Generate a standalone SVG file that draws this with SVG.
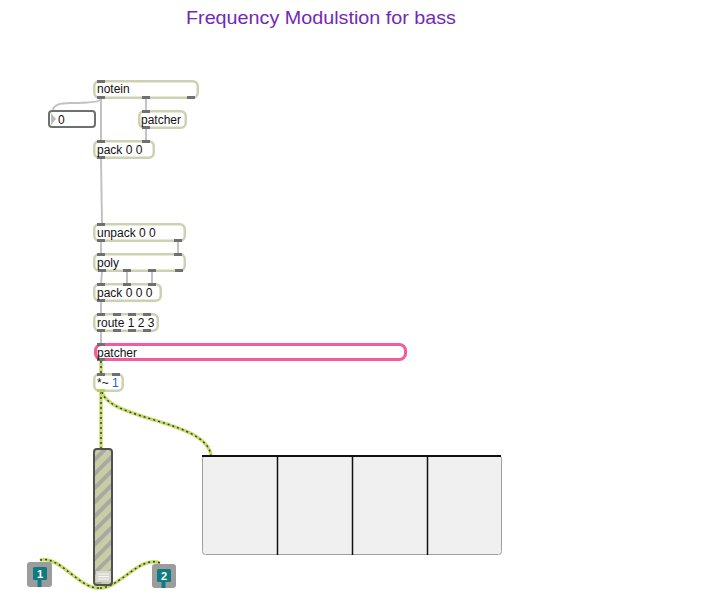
<svg xmlns="http://www.w3.org/2000/svg" width="707" height="598" viewBox="0 0 707 598">
<defs>
<style>
text{font-family:"Liberation Sans",Arial,sans-serif;font-size:12px;fill:#111}
.box{fill:#fff;stroke:#cdd1b1;stroke-width:2.5}
.tab{fill:#707070}
.stab{fill:#b5cf5e}
.cord{fill:none;stroke:#c2c2c2;stroke-width:2}
.sig{fill:none;stroke:#c4dd6a;stroke-width:3.5}
.sigd{fill:none;stroke:#3d3d2c;stroke-width:1.5;stroke-dasharray:2 3}
</style>
<pattern id="stripes" patternUnits="userSpaceOnUse" width="10" height="10" patternTransform="rotate(45)">
<rect width="10" height="10" fill="#c9cca4"/>
<rect width="4" height="10" fill="#a9a9a1"/>
</pattern>
</defs>
<rect width="707" height="598" fill="#fff"/>
<text x="186" y="24" textLength="270" lengthAdjust="spacingAndGlyphs" style="font-size:18.5px;fill:#7328b5">Frequency Modulstion for bass</text>

<g id="connectors">
<path class="cord" d="M101,99 L101,140"/>
<path class="cord" d="M146,99 L146,110"/>
<path class="cord" d="M146,129 L146,140"/>
<path class="cord" d="M101,99 Q100,103 70,103 Q54,103 53,110"/>
<path class="cord" d="M101,159 L102,223"/>
<path class="cord" d="M101,242 L101,253"/>
<path class="cord" d="M178,242 L178,253"/>
<path class="cord" d="M102,272 L101,283"/>
<path class="cord" d="M127,272 L127,283"/>
<path class="cord" d="M152,272 L152,283"/>
<path class="cord" d="M101,302 L101,313"/>
<path class="cord" d="M101,332 L101,343"/>
<path class="sig" d="M101,361 L101,373"/>
<path class="sigd" d="M101,361 L101,373"/>
<path class="sig" d="M101,392 L101,448"/>
<path class="sigd" d="M101,392 L101,448"/>
<path class="sig" d="M102,392 C110,420 205,420 211,455"/>
<path class="sigd" d="M102,392 C110,420 205,420 211,455"/>
<path class="sig" d="M40,560 C60,555 80,590 100,588"/>
<path class="sigd" d="M40,560 C60,555 80,590 100,588"/>
<path class="sig" d="M100,588 C120,588 140,555 160,563"/>
<path class="sigd" d="M100,588 C120,588 140,555 160,563"/>
</g>

<g id="notein">
<rect class="box" x="94.25" y="81.25" width="103.5" height="16.5" rx="5"/>
<rect class="tab" x="97" y="80" width="8" height="3"/>
<rect class="tab" x="97" y="96" width="8" height="3"/>
<rect class="tab" x="142" y="96" width="8" height="3"/>
<rect class="tab" x="187" y="96" width="8" height="3"/>
<text x="97" y="93">notein</text>
</g>

<g id="number">
<rect x="49" y="111" width="46" height="16" rx="3" fill="#fff" stroke="#6f6f6f" stroke-width="2"/>
<polygon points="51,113 56,119 51,125" fill="#bcbcbc"/>
<text x="58" y="123.5">0</text>
</g>

<g id="patcher1">
<rect class="box" x="139.25" y="111.25" width="46.5" height="16.5" rx="5"/>
<rect class="tab" x="142" y="110" width="8" height="3"/>
<rect class="tab" x="142" y="126" width="8" height="3"/>
<text x="141" y="124">patcher</text>
</g>

<g id="pack00">
<rect class="box" x="94.25" y="141.25" width="59.5" height="16.5" rx="5"/>
<rect class="tab" x="97" y="140" width="8" height="3"/>
<rect class="tab" x="142" y="140" width="8" height="3"/>
<rect class="tab" x="97" y="156" width="8" height="3"/>
<text x="97" y="154">pack 0 0</text>
</g>

<g id="unpack">
<rect class="box" x="94.25" y="224.25" width="90.5" height="16.5" rx="5"/>
<rect class="tab" x="97" y="223" width="8" height="3"/>
<rect class="tab" x="97" y="239" width="8" height="3"/>
<rect class="tab" x="174" y="239" width="8" height="3"/>
<text x="97" y="237">unpack 0 0</text>
</g>

<g id="poly">
<rect class="box" x="94.25" y="254.25" width="90.5" height="16.5" rx="5"/>
<rect class="tab" x="97" y="253" width="8" height="3"/>
<rect class="tab" x="174" y="253" width="8" height="3"/>
<rect class="tab" x="98" y="269" width="8" height="3"/>
<rect class="tab" x="123" y="269" width="8" height="3"/>
<rect class="tab" x="148" y="269" width="8" height="3"/>
<rect class="tab" x="175" y="269" width="8" height="3"/>
<text x="97" y="267">poly</text>
</g>

<g id="pack000">
<rect class="box" x="94.25" y="284.25" width="66.5" height="16.5" rx="5"/>
<rect class="tab" x="97" y="283" width="8" height="3"/>
<rect class="tab" x="123" y="283" width="8" height="3"/>
<rect class="tab" x="148" y="283" width="8" height="3"/>
<rect class="tab" x="97" y="299" width="8" height="3"/>
<text x="97" y="297">pack 0 0 0</text>
</g>

<g id="route">
<rect class="box" x="94.25" y="314.25" width="63.5" height="16.5" rx="5"/>
<rect class="tab" x="97" y="313" width="8" height="3"/>
<rect class="tab" x="113" y="313" width="8" height="3"/>
<rect class="tab" x="128" y="313" width="8" height="3"/>
<rect class="tab" x="143" y="313" width="8" height="3"/>
<rect class="tab" x="97" y="329" width="8" height="3"/>
<rect class="tab" x="113" y="329" width="8" height="3"/>
<rect class="tab" x="128" y="329" width="8" height="3"/>
<rect class="tab" x="143" y="329" width="8" height="3"/>
<text x="97" y="327">route 1 2 3</text>
</g>

<g id="patcher2">
<rect x="95.5" y="344.5" width="310" height="15" rx="6" fill="#fff" stroke="#f45a9d" stroke-width="3"/>
<rect class="tab" x="97" y="343" width="8" height="3"/>
<rect class="tab" x="97" y="358" width="8" height="3"/>
<text x="97" y="357">patcher</text>
</g>

<g id="times">
<rect class="box" x="94.25" y="374.25" width="28.5" height="16.5" rx="5"/>
<rect class="tab" x="97" y="373" width="8" height="3"/>
<rect class="tab" x="112" y="373" width="8" height="3"/>
<rect class="stab" x="97" y="389" width="8" height="3"/>
<text x="97" y="387">*~ <tspan style="fill:#1e64b4">1</tspan></text>
</g>

<g id="gain">
<rect x="94" y="449" width="18" height="136" rx="3" fill="url(#stripes)" stroke="#505050" stroke-width="2"/>
<rect x="96" y="571" width="15" height="11" fill="#d6d6ce"/>
<path d="M98,574 H109 M98,576.5 H109 M98,579 H109" stroke="#f6f6f6" stroke-width="1"/>
</g>

<g id="outlet1">
<rect x="27" y="562" width="25" height="25" rx="3" fill="#9c9c9c"/>
<rect x="33" y="567" width="14" height="13" rx="1.5" fill="#0f7a80"/>
<rect x="37.5" y="579" width="4" height="8" fill="#0f7a80"/>
<text x="40" y="578" text-anchor="middle" style="fill:#fff;font-weight:bold;font-size:11px">1</text>
</g>

<g id="outlet2">
<rect x="152" y="564" width="24" height="24" rx="3" fill="#9c9c9c"/>
<rect x="157" y="569" width="14" height="13" rx="1.5" fill="#0f7a80"/>
<rect x="161.5" y="581" width="4" height="7" fill="#0f7a80"/>
<text x="164" y="580" text-anchor="middle" style="fill:#fff;font-weight:bold;font-size:11px">2</text>
</g>

<g id="meter">
<rect x="202.5" y="455.5" width="299" height="99" rx="3" fill="#f0f0f0" stroke="#a0a0a0" stroke-width="1"/>
<path d="M202,456 H501" stroke="#111" stroke-width="2"/>
<path d="M277.5,456 V555 M352.5,456 V555 M427.5,456 V555" stroke="#111" stroke-width="1.5"/>
</g>
</svg>
